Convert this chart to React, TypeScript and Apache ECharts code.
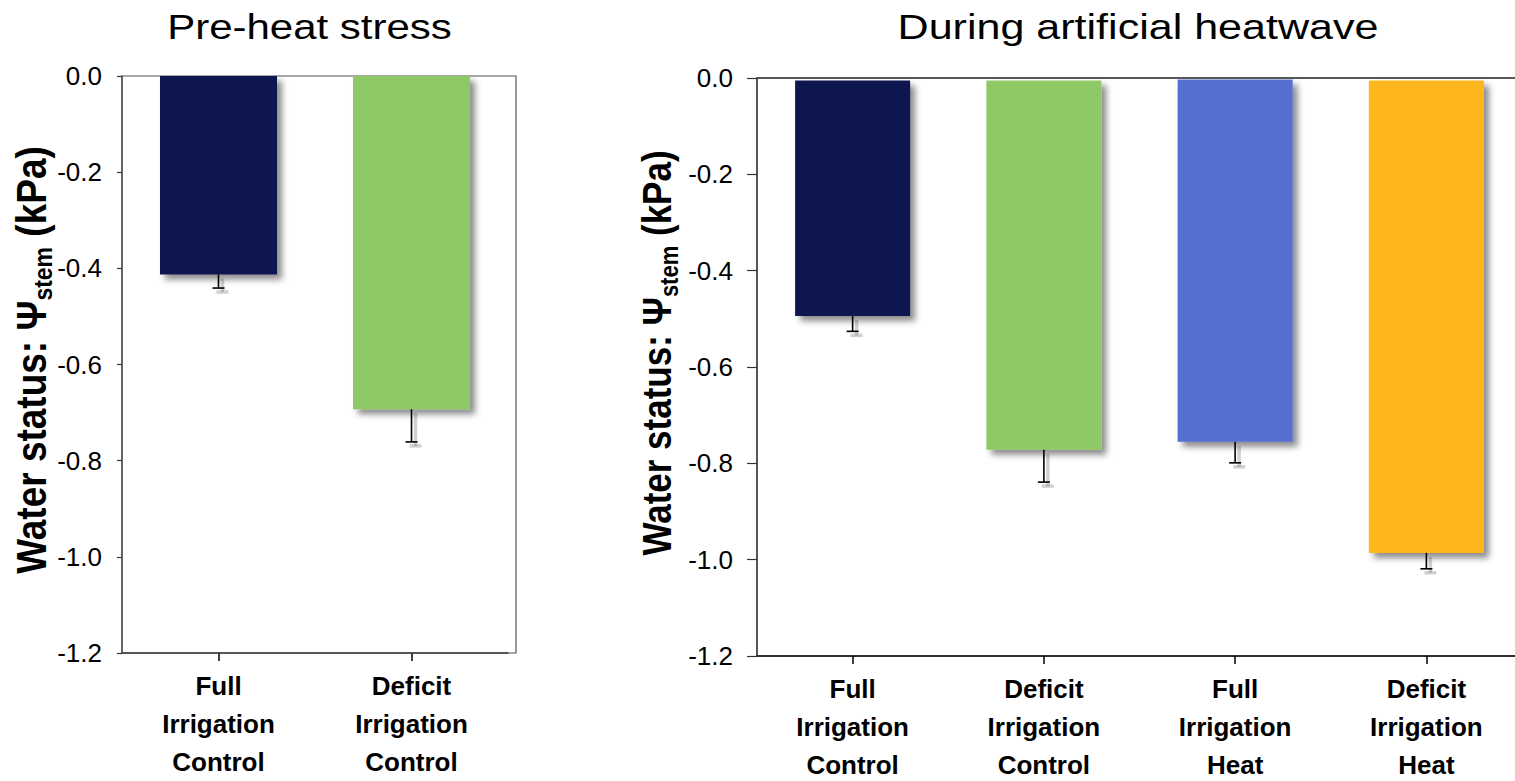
import React, { useEffect, useRef } from "react";
import * as echarts from "echarts";

// ---------- data ----------
const preTitle = "Pre-heat stress";
const heatTitle = "During artificial heatwave";

const preCategories = ["Full\nIrrigation\nControl", "Deficit\nIrrigation\nControl"];
const preValues = [-0.413, -0.693];
const preErrors = [0.028, 0.068];
const preColors = ["#10124f", "#8fc966"];

const heatCategories = [
  "Full\nIrrigation\nControl",
  "Deficit\nIrrigation\nControl",
  "Full\nIrrigation\nHeat",
  "Deficit\nIrrigation\nHeat",
];
const heatValues = [-0.494, -0.772, -0.755, -0.986];
const heatErrors = [0.032, 0.067, 0.044, 0.033];
const heatColors = ["#10124f", "#8fc966", "#556fd1", "#fdb61f"];
// small gap between the top axis and the bars in the second panel
const heatBarStart = [-0.005, -0.005, -0.003, -0.005];

const yMin = -1.2;
const yMax = 0;
const yInterval = 0.2;

const FONT = "Arial, 'Liberation Sans', Helvetica, sans-serif";

const shadow = {
  shadowBlur: 6,
  shadowOffsetX: 5,
  shadowOffsetY: 5,
  shadowColor: "rgba(0,0,0,0.45)",
};

function errorSeries(axisIndex: number, base: number[], errors: number[], capHalf: number) {
  return {
    type: "custom",
    xAxisIndex: axisIndex,
    yAxisIndex: axisIndex,
    z: 5,
    silent: true,
    encode: { x: 0, y: [1, 2] },
    data: base.map((v, i) => [i, v, v - errors[i]]),
    renderItem: (params: any, api: any) => {
      const idx = api.value(0);
      const top = api.coord([idx, api.value(1)]);
      const bot = api.coord([idx, api.value(2)]);
      const main = { stroke: "#000", lineWidth: 1.6 };
      const sh = { stroke: "rgba(0,0,0,0.18)", lineWidth: 3.5 };
      const d = 4;
      return {
        type: "group",
        children: [
          { type: "line", shape: { x1: top[0] + d, y1: top[1] + d, x2: bot[0] + d, y2: bot[1] + d }, style: sh },
          {
            type: "line",
            shape: { x1: bot[0] - capHalf + d, y1: bot[1] + d, x2: bot[0] + capHalf + d, y2: bot[1] + d },
            style: sh,
          },
          { type: "line", shape: { x1: top[0], y1: top[1], x2: bot[0], y2: bot[1] }, style: main },
          {
            type: "line",
            shape: { x1: bot[0] - capHalf, y1: bot[1], x2: bot[0] + capHalf, y2: bot[1] },
            style: main,
          },
        ],
      };
    },
  };
}

function yAxis(gridIndex: number, tickLen: number, margin: number) {
  return {
    type: "value",
    gridIndex,
    min: yMin,
    max: yMax,
    interval: yInterval,
    axisLine: { show: true, lineStyle: { color: "#555", width: 1.5 } },
    axisTick: { show: true, length: tickLen, lineStyle: { color: "#333", width: 1.2 } },
    axisLabel: {
      color: "#000",
      fontSize: 26,
      fontFamily: FONT,
      margin,
      formatter: (v: number) => (Math.abs(v) < 1e-9 ? "0.0" : v.toFixed(1)),
    },
    splitLine: { show: false },
  };
}

function xAxis(gridIndex: number, cats: string[], margin: number) {
  return {
    type: "category",
    gridIndex,
    data: cats,
    axisLine: { show: true, onZero: false, lineStyle: { color: "#222", width: 1.5 } },
    axisTick: { show: true, alignWithLabel: true, length: 8, lineStyle: { color: "#000", width: 1.5 } },
    axisLabel: {
      color: "#000",
      fontSize: 26,
      fontWeight: "bold",
      fontFamily: FONT,
      lineHeight: 38,
      margin,
      interval: 0,
    },
    splitLine: { show: false },
  };
}

function yLabel(x: number, y: number, size: number) {
  return {
    type: "text",
    x,
    y,
    rotation: Math.PI / 2,
    scaleY: 1.15,
    style: {
      text: "{a|Water status: Ψ}{b|stem}{a| (kPa)}",
      align: "center",
      verticalAlign: "middle",
      rich: {
        a: { fontSize: size, fontWeight: "bold", fontFamily: FONT, fill: "#000", lineHeight: 44, verticalAlign: "middle" },
        b: { fontSize: Math.round(size * 0.62), fontWeight: "bold", fontFamily: FONT, fill: "#000", lineHeight: 44, verticalAlign: "bottom" },
      },
    },
  };
}

export default function App() {
  const ref = useRef<HTMLDivElement>(null);

  useEffect(() => {
    if (!ref.current) return;
    const chart = echarts.init(ref.current, null, { renderer: "svg" });

    const option: any = {
      animation: false,
      backgroundColor: "#fff",
      grid: [
        { left: 122, top: 76, width: 386, height: 577, show: false, containLabel: false, outerBoundsMode: "none" },
        {
          left: 757,
          top: 78,
          width: 765,
          height: 578,
          show: true,
          borderColor: "#222",
          borderWidth: 1.5,
          backgroundColor: "transparent",
          containLabel: false,
          outerBoundsMode: "none",
        },
      ],
      xAxis: [xAxis(0, preCategories, 14), xAxis(1, heatCategories, 14)],
      yAxis: [yAxis(0, 5, 20), yAxis(1, 10, 24)],
      series: [
        {
          type: "bar",
          xAxisIndex: 0,
          yAxisIndex: 0,
          barWidth: 117,
          data: preValues.map((v, i) => ({ value: v, itemStyle: { color: preColors[i], ...shadow } })),
        },
        errorSeries(0, preValues, preErrors, 6),
        {
          type: "bar",
          xAxisIndex: 1,
          yAxisIndex: 1,
          stack: "heat",
          barWidth: 115,
          silent: true,
          itemStyle: { color: "transparent" },
          data: heatBarStart,
        },
        {
          type: "bar",
          xAxisIndex: 1,
          yAxisIndex: 1,
          stack: "heat",
          barWidth: 115,
          data: heatValues.map((v, i) => ({
            value: v - heatBarStart[i],
            itemStyle: { color: heatColors[i], ...shadow },
          })),
        },
        errorSeries(1, heatValues, heatErrors, 6),
      ],
      graphic: [
        {
          type: "rect",
          shape: { x: 122, y: 76, width: 394, height: 577 },
          style: { fill: "none", stroke: "#555", lineWidth: 1.2 },
          z: 1,
          silent: true,
        },
        {
          type: "text",
          x: 309.5,
          y: 27,
          scaleX: 1.2,
          style: { text: preTitle, fontSize: 35, fontFamily: FONT, fill: "#000", align: "center", verticalAlign: "middle" },
        },
        {
          type: "text",
          x: 1138,
          y: 27,
          scaleX: 1.23,
          style: { text: heatTitle, fontSize: 35, fontFamily: FONT, fill: "#000", align: "center", verticalAlign: "middle" },
        },
        yLabel(31, 360, 37),
        yLabel(657, 353, 35),
      ],
    };

    chart.setOption(option);
    return () => chart.dispose();
  }, []);

  return (
    <div
      ref={ref}
      style={{ position: "fixed", left: 0, top: 0, width: 1515, height: 781, background: "#fff" }}
    />
  );
}
